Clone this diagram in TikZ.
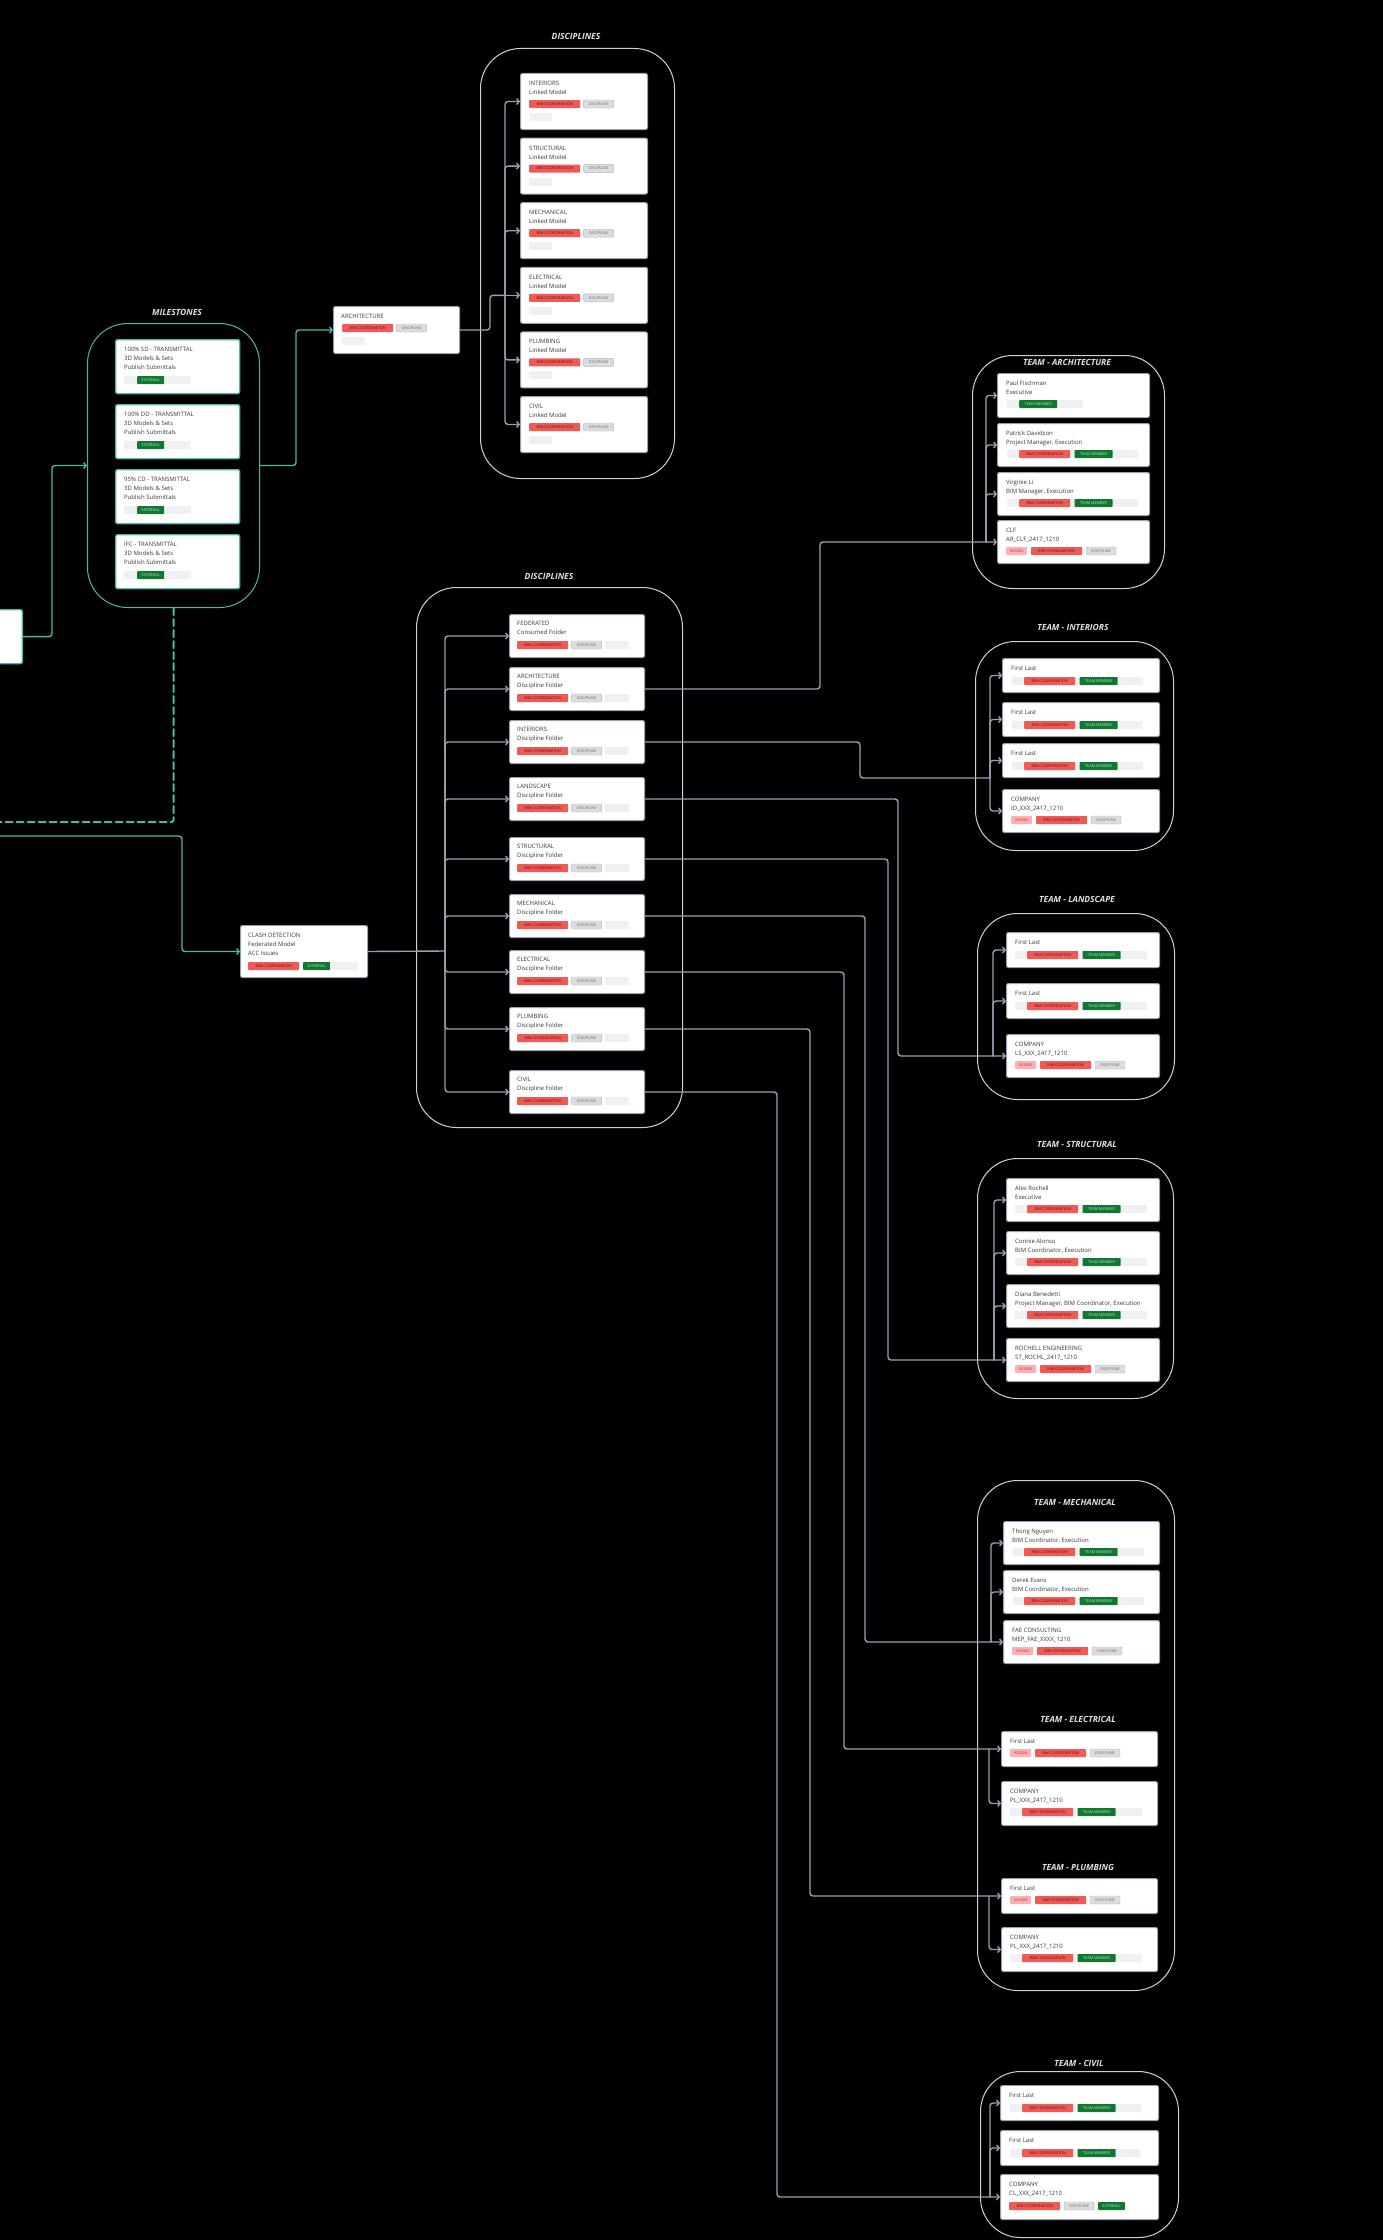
\documentclass[tikz,border=0pt]{standalone}
\usepackage{fontspec}
\setmainfont{Open Sans}
\usetikzlibrary{arrows.meta,positioning}
\definecolor{bimred}{RGB}{238,90,86}
\definecolor{bimtxt}{RGB}{105,8,8}
\definecolor{memgreen}{RGB}{16,120,48}
\definecolor{greentxt}{RGB}{190,230,200}
\definecolor{discfill}{RGB}{220,220,222}
\definecolor{discline}{RGB}{185,185,188}
\definecolor{disctxt}{RGB}{105,105,110}
\definecolor{asgnfill}{RGB}{250,176,180}
\definecolor{asgntxt}{RGB}{205,40,50}
\definecolor{phgrey}{RGB}{238,240,242}
\definecolor{cardline}{RGB}{150,162,178}
\definecolor{connline}{RGB}{150,162,178}
\definecolor{mteal}{RGB}{72,186,166}
\definecolor{grpline}{RGB}{205,210,215}

\begin{document}
\begin{tikzpicture}[x=1pt,y=-1pt,line cap=round,line join=round,
  card/.style={draw=cardline,fill=white,rounded corners=2pt,line width=1pt,anchor=north west,inner sep=0pt},
  mcard/.style={card,draw=mteal,line width=1.3pt},
  ctxt/.style={anchor=north west,inner sep=0pt,align=left,text=black!78,font=\fontsize{6}{9}\selectfont},
  tagb/.style={anchor=west,inner sep=0pt,minimum height=8pt,rounded corners=0.8pt,font=\fontsize{3.8}{4}\selectfont},
  bim/.style={tagb,fill=bimred,text=bimtxt,minimum width=51pt},
  disc/.style={tagb,fill=discfill,draw=discline,line width=0.4pt,text=disctxt,minimum width=30pt},
  member/.style={tagb,fill=memgreen,text=greentxt,minimum width=38pt},
  ext/.style={tagb,fill=memgreen,text=greentxt,minimum width=27pt},
  asgn/.style={tagb,fill=asgnfill,text=asgntxt,minimum width=21pt},
  ph/.style={fill=phgrey},
  grp/.style={draw=grpline,line width=1pt,rounded corners=40pt,anchor=north west,inner sep=0pt},
  hdg/.style={font=\fontsize{8.5}{10}\selectfont\bfseries\itshape,text=black!12,fill=black,inner sep=1.5pt},
  conn/.style={draw=connline,line width=1.4pt,rounded corners=3pt},
  arr/.style={conn,-{Straight Barb[length=2.5pt,width=6pt]}},
  tconn/.style={conn,draw=mteal},
  tarr/.style={arr,draw=mteal}]
\useasboundingbox (0,0) rectangle (1383,2240);
\fill[black] (0,0) rectangle (1383,2240);
% groups
\node[grp,minimum width=194pt,minimum height=430pt] (dlgrp) at (480,48) {};
\node[grp,draw=mteal,minimum width=172pt,minimum height=284pt] (msgrp) at (87,323) {};
\node[grp,minimum width=266pt,minimum height=540pt] (dfgrp) at (416,587) {};
\node[grp,minimum width=192pt,minimum height=233pt] (tagrp) at (972,355) {};
\node[grp,minimum width=198pt,minimum height=209pt] (tigrp) at (975,641) {};
\node[grp,minimum width=197pt,minimum height=186pt] (tlgrp) at (977,913) {};
\node[grp,minimum width=196pt,minimum height=240pt] (tsgrp) at (977,1158) {};
\node[grp,minimum width=197pt,minimum height=510pt] (tmgrp) at (977,1480) {};
\node[grp,minimum width=198pt,minimum height=166pt] (tcgrp) at (980,2071) {};
\node[hdg] (dl-h) at (576,36) {DISCIPLINES};
\node[hdg] (ms-h) at (177,312) {MILESTONES};
\node[hdg] (df-h) at (549,576) {DISCIPLINES};
\node[hdg] (ta-h) at (1067,362) {TEAM - ARCHITECTURE};
\node[hdg] (ti-h) at (1073,627) {TEAM - INTERIORS};
\node[hdg] (tl-h) at (1077,899) {TEAM - LANDSCAPE};
\node[hdg] (ts-h) at (1077,1144) {TEAM - STRUCTURAL};
\node[hdg] (tm-h) at (1075,1502) {TEAM - MECHANICAL};
\node[hdg] (te-h) at (1078,1719) {TEAM - ELECTRICAL};
\node[hdg] (tp-h) at (1078,1867) {TEAM - PLUMBING};
\node[hdg] (tc-h) at (1079,2063) {TEAM - CIVIL};
% linked models
\foreach \n [count=\i] in {INTERIORS,STRUCTURAL,MECHANICAL,ELECTRICAL,PLUMBING,CIVIL}{
  \node[card,minimum width=127pt,minimum height=56pt] (li\i) at (520,{73+64.6*(\i-1)}) {};
  \node[ctxt] (li\i-t) at ([shift={(9,8)}]li\i.north west) {\n\\Linked Model};
  \node[bim] (li\i-b) at ([shift={(9,31)}]li\i.north west) {BIM COORDINATION};
  \node[disc,right=3pt of li\i-b] (li\i-d) {DISCIPLINE};
  \fill[ph] ([shift={(9,40)}]li\i.north west) rectangle ++(23,8);
}
% milestones
\foreach \n/\y [count=\i] in {100\% SD/339,100\% DD/404,95\% CD/469,IFC/534}{
  \node[mcard,minimum width=124pt,minimum height=54pt] (ms\i) at (115,\y) {};
  \node[ctxt] (ms\i-t) at ([shift={(9,8)}]ms\i.north west) {\n{} - TRANSMITTAL\\3D Models \& Sets\\Publish Submittals};
  \fill[ph] ([shift={(9,37)}]ms\i.north west) rectangle ++(67,8);
  \node[ext] (ms\i-e) at ([shift={(22,41)}]ms\i.north west) {EXTERNAL};
}
\node[mcard,anchor=north east,minimum width=80pt,minimum height=54pt] (src) at (23,609) {};
% architecture model
\node[card,minimum width=126pt,minimum height=47pt] (arch) at (333,306) {};
\node[ctxt] (arch-t) at ([shift={(8,8)}]arch.north west) {ARCHITECTURE};
\node[bim] (arch-b) at ([shift={(9,22)}]arch.north west) {BIM COORDINATION};
\node[disc,right=3pt of arch-b] (arch-d) {DISCIPLINE};
\fill[ph] ([shift={(9,31)}]arch.north west) rectangle ++(23,8);
% clash detection
\node[card,minimum width=127pt,minimum height=52pt] (clash) at (240,925) {};
\node[ctxt] (clash-t) at ([shift={(8,8)}]clash.north west) {CLASH DETECTION\\Federated Model\\ACC Issues};
\node[bim] (clash-b) at ([shift={(8,41)}]clash.north west) {BIM COORDINATION};
\node[ext,right=3.5pt of clash-b] (clash-e) {EXTERNAL};
\fill[ph] ([shift={(90,37)}]clash.north west) rectangle ++(28,8);
% discipline folders
\foreach \n/\s/\y [count=\i] in {FEDERATED/Consumed Folder/614,ARCHITECTURE/Discipline Folder/667,INTERIORS/Discipline Folder/720,LANDSCAPE/Discipline Folder/777,STRUCTURAL/Discipline Folder/837,MECHANICAL/Discipline Folder/894,ELECTRICAL/Discipline Folder/950,PLUMBING/Discipline Folder/1007,CIVIL/Discipline Folder/1070}{
  \node[card,minimum width=135pt,minimum height=43pt] (df\i) at (509,\y) {};
  \node[ctxt] (df\i-t) at ([shift={(8,7)}]df\i.north west) {\n\\\s};
  \node[bim] (df\i-b) at ([shift={(8,31)}]df\i.north west) {BIM COORDINATION};
  \node[disc,right=3pt of df\i-b] (df\i-d) {DISCIPLINE};
  \fill[ph] ([shift={(96,27)}]df\i.north west) rectangle ++(24,8);
}
% team architecture
\node[card,minimum width=152pt,minimum height=44pt] (ta1) at (997,373) {};
\node[ctxt] (ta1-t) at ([shift={(9,8)}]ta1.north west) {Paul Fischman\\Executive};
\fill[ph] ([shift={(10,27)}]ta1.north west) rectangle ++(76,8);
\node[member] (ta1-m) at ([shift={(22,31)}]ta1.north west) {TEAM MEMBER};
\node[card,minimum width=152pt,minimum height=43pt] (ta2) at (997,423) {};
\node[ctxt] (ta2-t) at ([shift={(9,8)}]ta2.north west) {Patrick Davidson\\Project Manager, Execution};
\fill[ph] ([shift={(10,27)}]ta2.north west) rectangle ++(131,8);
\node[bim] (ta2-b) at ([shift={(22,31)}]ta2.north west) {BIM COORDINATION};
\node[member,right=4pt of ta2-b] (ta2-m) {TEAM MEMBER};
\node[card,minimum width=152pt,minimum height=43pt] (ta3) at (997,472) {};
\node[ctxt] (ta3-t) at ([shift={(9,8)}]ta3.north west) {Virginie Li\\BIM Manager, Execution};
\fill[ph] ([shift={(10,27)}]ta3.north west) rectangle ++(131,8);
\node[bim] (ta3-b) at ([shift={(22,31)}]ta3.north west) {BIM COORDINATION};
\node[member,right=4pt of ta3-b] (ta3-m) {TEAM MEMBER};
\node[card,minimum width=152pt,minimum height=43pt] (ta4) at (997,520) {};
\node[ctxt] (ta4-t) at ([shift={(9,8)}]ta4.north west) {CLF\\AR\_CLF\_2417\_1210};
\node[asgn] (ta4-a) at ([shift={(9,31)}]ta4.north west) {ASSIGN};
\node[bim,right=3.5pt of ta4-a] (ta4-b) {BIM COORDINATION};
\node[disc,right=3.5pt of ta4-b] (ta4-d) {DISCIPLINE};
% team interiors
\foreach \y [count=\i] in {658,702,743}{
  \node[card,minimum width=157pt,minimum height=34pt] (ti\i) at (1002,\y) {};
  \node[ctxt] (ti\i-t) at ([shift={(9,8)}]ti\i.north west) {First Last};
  \fill[ph] ([shift={(10,19)}]ti\i.north west) rectangle ++(131,8);
  \node[bim] (ti\i-b) at ([shift={(22,23)}]ti\i.north west) {BIM COORDINATION};
  \node[member,right=4pt of ti\i-b] (ti\i-m) {TEAM MEMBER};
}
\node[card,minimum width=157pt,minimum height=43pt] (ti4) at (1002,789) {};
\node[ctxt] (ti4-t) at ([shift={(9,8)}]ti4.north west) {COMPANY\\ID\_XXX\_2417\_1210};
\node[asgn] (ti4-a) at ([shift={(9,31)}]ti4.north west) {ASSIGN};
\node[bim,right=3.5pt of ti4-a] (ti4-b) {BIM COORDINATION};
\node[disc,right=3.5pt of ti4-b] (ti4-d) {DISCIPLINE};
% team landscape
\foreach \y [count=\i] in {932,983}{
  \node[card,minimum width=153pt,minimum height=35pt] (tl\i) at (1006,\y) {};
  \node[ctxt] (tl\i-t) at ([shift={(9,8)}]tl\i.north west) {First Last};
  \fill[ph] ([shift={(9,19)}]tl\i.north west) rectangle ++(132,8);
  \node[bim] (tl\i-b) at ([shift={(21,23)}]tl\i.north west) {BIM COORDINATION};
  \node[member,right=4pt of tl\i-b] (tl\i-m) {TEAM MEMBER};
}
\node[card,minimum width=153pt,minimum height=43pt] (tl3) at (1006,1034) {};
\node[ctxt] (tl3-t) at ([shift={(9,8)}]tl3.north west) {COMPANY\\LS\_XXX\_2417\_1210};
\node[asgn] (tl3-a) at ([shift={(9,31)}]tl3.north west) {ASSIGN};
\node[bim,right=3.5pt of tl3-a] (tl3-b) {BIM COORDINATION};
\node[disc,right=3.5pt of tl3-b] (tl3-d) {DISCIPLINE};
% team structural
\node[card,minimum width=153pt,minimum height=43pt] (ts1) at (1006,1178) {};
\node[ctxt] (ts1-t) at ([shift={(9,8)}]ts1.north west) {Alex Rochell\\Executive};
\node[card,minimum width=153pt,minimum height=43pt] (ts2) at (1006,1231) {};
\node[ctxt] (ts2-t) at ([shift={(9,8)}]ts2.north west) {Connie Alonso\\BIM Coordinator, Execution};
\node[card,minimum width=153pt,minimum height=43pt] (ts3) at (1006,1284) {};
\node[ctxt] (ts3-t) at ([shift={(9,8)}]ts3.north west) {Diana Benedetti\\Project Manager, BIM Coordinator, Execution};
\foreach \i in {1,2,3}{
  \fill[ph] ([shift={(9,27)}]ts\i.north west) rectangle ++(132,8);
  \node[bim] (ts\i-b) at ([shift={(21,31)}]ts\i.north west) {BIM COORDINATION};
  \node[member,right=4pt of ts\i-b] (ts\i-m) {TEAM MEMBER};
}
\node[card,minimum width=153pt,minimum height=43pt] (ts4) at (1006,1338) {};
\node[ctxt] (ts4-t) at ([shift={(9,8)}]ts4.north west) {ROCHELL ENGINEERING\\ST\_ROCHL\_2417\_1210};
\node[asgn] (ts4-a) at ([shift={(9,31)}]ts4.north west) {ASSIGN};
\node[bim,right=3.5pt of ts4-a] (ts4-b) {BIM COORDINATION};
\node[disc,right=3.5pt of ts4-b] (ts4-d) {DISCIPLINE};
% team mechanical
\node[card,minimum width=156pt,minimum height=43pt] (tm1) at (1003,1521) {};
\node[ctxt] (tm1-t) at ([shift={(9,8)}]tm1.north west) {Thong Nguyen\\BIM Coordinator, Execution};
\node[card,minimum width=156pt,minimum height=43pt] (tm2) at (1003,1570) {};
\node[ctxt] (tm2-t) at ([shift={(9,8)}]tm2.north west) {Derek Evans\\BIM Coordinator, Execution};
\foreach \i in {1,2}{
  \fill[ph] ([shift={(10,27)}]tm\i.north west) rectangle ++(131,8);
  \node[bim] (tm\i-b) at ([shift={(21,31)}]tm\i.north west) {BIM COORDINATION};
  \node[member,right=4pt of tm\i-b] (tm\i-m) {TEAM MEMBER};
}
\node[card,minimum width=156pt,minimum height=43pt] (tm3) at (1003,1620) {};
\node[ctxt] (tm3-t) at ([shift={(9,8)}]tm3.north west) {FAE CONSULTING\\MEP\_FAE\_XXXX\_1210};
\node[asgn] (tm3-a) at ([shift={(9,31)}]tm3.north west) {ASSIGN};
\node[bim,right=3.5pt of tm3-a] (tm3-b) {BIM COORDINATION};
\node[disc,right=3.5pt of tm3-b] (tm3-d) {DISCIPLINE};
% team electrical and plumbing
\foreach \g/\ya/\yb in {te/1731/1781,tp/1878/1927}{
  \node[card,minimum width=156pt,minimum height=35pt] (\g1) at (1001,\ya) {};
  \node[ctxt] (\g1-t) at ([shift={(9,8)}]\g1.north west) {First Last};
  \node[asgn] (\g1-a) at ([shift={(9,22)}]\g1.north west) {ASSIGN};
  \node[bim,right=3.5pt of \g1-a] (\g1-b) {BIM COORDINATION};
  \node[disc,right=3.5pt of \g1-b] (\g1-d) {DISCIPLINE};
  \node[card,minimum width=156pt,minimum height=44pt] (\g2) at (1001,\yb) {};
  \node[ctxt] (\g2-t) at ([shift={(9,8)}]\g2.north west) {COMPANY\\PL\_XXX\_2417\_1210};
  \fill[ph] ([shift={(9,27)}]\g2.north west) rectangle ++(132,8);
  \node[bim] (\g2-b) at ([shift={(21,31)}]\g2.north west) {BIM COORDINATION};
  \node[member,right=4pt of \g2-b] (\g2-m) {TEAM MEMBER};
}
% team civil
\foreach \y [count=\i] in {2085,2130}{
  \node[card,minimum width=158pt,minimum height=35pt] (tc\i) at (1000,\y) {};
  \node[ctxt] (tc\i-t) at ([shift={(9,8)}]tc\i.north west) {First Last};
  \fill[ph] ([shift={(10,19)}]tc\i.north west) rectangle ++(131,8);
  \node[bim] (tc\i-b) at ([shift={(22,23)}]tc\i.north west) {BIM COORDINATION};
  \node[member,right=4pt of tc\i-b] (tc\i-m) {TEAM MEMBER};
}
\node[card,minimum width=158pt,minimum height=45pt] (tc3) at (1000,2174) {};
\node[ctxt] (tc3-t) at ([shift={(9,8)}]tc3.north west) {COMPANY\\CL\_XXX\_2417\_1210};
\node[bim] (tc3-b) at ([shift={(9,32)}]tc3.north west) {BIM COORDINATION};
\node[disc,right=3.5pt of tc3-b] (tc3-d) {DISCIPLINE};
\node[ext,right=3.5pt of tc3-d] (tc3-e) {EXTERNAL};
% connectors
\coordinate (dashend) at (-5,822);
\coordinate (clin) at (-5,836);
\draw[tarr] (src.east) -- ++(29,0) |- (msgrp.west);
\draw[tarr] (msgrp.east) -- ++(36,0) |- (arch.west);
\draw[tconn,line width=2pt,rounded corners=2pt,dash pattern=on 7pt off 4pt] (msgrp.south) |- (dashend);
\draw[tarr] (clin) -- ++(187,0) |- (clash.west);
\path (li4.west) ++(-15,0) coordinate (dlj);
\draw[conn] (arch.east) -- ++(30,0) |- (dlj);
\draw[arr] (dlj) -- (li4.west);
\foreach \i in {1,2,3,5,6} \draw[arr] (dlj) |- (li\i.west);
\coordinate (dfj) at (445,951);
\draw[conn] (clash.east) -- (dfj);
\foreach \i in {1,...,9} \draw[arr] (dfj) |- (df\i.west);
% discipline folders to teams
\path (ta4.west) ++(-11,0) coordinate (taj);
\draw[arr] (df2.east) -- ++(175,0) |- (ta4.west);
\foreach \i in {1,2,3} \draw[arr] (taj) |- (ta\i.west);
\coordinate (tij) at (990,778);
\draw[conn] (df3.east) -- ++(215,0) |- (tij);
\foreach \i in {1,...,4} \draw[arr] (tij) |- (ti\i.west);
\path (tl3.west) ++(-13,0) coordinate (tlj);
\draw[arr] (df4.east) -- ++(253,0) |- (tl3.west);
\foreach \i in {1,2} \draw[arr] (tlj) |- (tl\i.west);
\path (ts4.west) ++(-12,0) coordinate (tsj);
\draw[arr] (df5.east) -- ++(243,0) |- (ts4.west);
\foreach \i in {1,2,3} \draw[arr] (tsj) |- (ts\i.west);
\path (tm3.west) ++(-12,0) coordinate (tmj);
\draw[arr] (df6.east) -- ++(220,0) |- (tm3.west);
\foreach \i in {1,2} \draw[arr] (tmj) |- (tm\i.west);
\path (te1.west) ++(-12,0) coordinate (tej);
\draw[arr] (df7.east) -- ++(199,0) |- (te1.west);
\draw[arr] (tej) |- (te2.west);
\path (tp1.west) ++(-12,0) coordinate (tpj);
\draw[arr] (df8.east) -- ++(165,0) |- (tp1.west);
\draw[arr] (tpj) |- (tp2.west);
\path (tc3.west) ++(-10,0) coordinate (tcj);
\draw[arr] (df9.east) -- ++(132,0) |- (tc3.west);
\foreach \i in {1,2} \draw[arr] (tcj) |- (tc\i.west);
\end{tikzpicture}
\end{document}
